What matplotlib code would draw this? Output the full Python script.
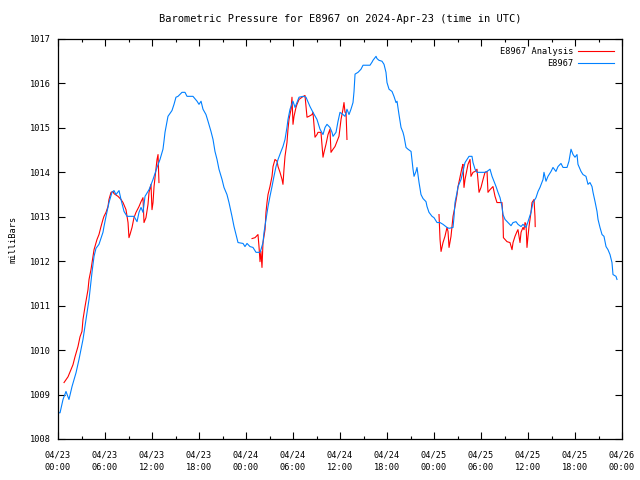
import numpy as np
import matplotlib
matplotlib.use("Agg")
import matplotlib.pyplot as plt
from matplotlib.ticker import MultipleLocator

nan = np.nan

# hours since 2024-04-23 00:00 UTC, pressure in mbar
blue_hours = [
    0.00, 0.26, 0.64, 1.02, 1.40, 1.79, 2.30, 2.68, 3.19, 3.57, 3.96, 4.34, 4.60, 4.85, 5.23, 5.74,
    5.87, 6.13, 6.51, 6.89, 7.15, 7.40, 7.79, 8.04, 8.43, 8.81, 9.70, 10.09, 10.34, 10.60, 10.85,
    11.11, 11.62, 11.74, 12.13, 12.64, 13.02, 13.40, 13.53, 13.66, 13.92, 14.04, 14.55, 14.81,
    15.06, 15.32, 15.83, 16.21, 16.47, 17.23, 17.75, 18.00, 18.26, 18.51, 18.89, 19.15, 19.53,
    19.79, 20.04, 20.30, 20.55, 20.94, 21.19, 21.57, 21.83, 22.21, 22.47, 22.72, 22.98, 23.62,
    23.87, 24.13, 24.51, 24.89, 25.28, 25.79, 25.91, 26.17, 26.30, 26.55, 26.81, 27.06, 27.32,
    27.57, 27.83, 28.09, 28.47, 28.72, 28.98, 29.23, 29.36, 29.62, 30.00, 30.26, 30.51, 30.77,
    31.28, 31.66, 32.17, 32.55, 33.06, 33.45, 33.83, 34.09, 34.34, 34.72, 34.98, 35.11, 35.49,
    35.75, 36.00, 36.38, 36.64, 36.89, 37.15, 37.40, 37.66, 37.79, 37.92, 38.30, 38.68, 38.94,
    39.83, 40.09, 40.21, 40.60, 40.72, 40.98, 41.36, 41.62, 41.87, 42.00, 42.26, 42.64, 42.89,
    43.15, 43.28, 43.53, 43.79, 44.04, 44.17, 44.43, 44.68, 45.07, 45.32, 45.45, 45.70, 45.83,
    46.09, 46.34, 46.60, 46.98, 47.11, 47.36, 47.75, 48.00, 48.39, 48.77, 49.15, 49.66, 49.92,
    50.43, 50.56, 50.68, 50.94, 51.07, 51.45, 51.70, 51.96, 52.21, 52.47, 52.85, 52.98, 53.24,
    53.49, 54.51, 54.77, 55.15, 55.41, 55.66, 55.92, 56.17, 56.43, 56.68, 56.81, 57.07, 57.45,
    57.83, 58.09, 58.47, 58.72, 59.11, 59.36, 59.75, 60.00, 60.38, 60.64, 61.02, 61.28, 61.53,
    61.92, 62.04, 62.30, 62.55, 62.94, 63.19, 63.57, 63.83, 64.21, 64.47, 64.98, 65.23, 65.49,
    65.75, 66.00, 66.26, 66.38, 66.77, 67.02, 67.40, 67.66, 67.91, 68.17, 68.30, 68.56, 68.81,
    68.94, 69.19, 69.45, 69.70, 69.96, 70.21, 70.47, 70.72, 70.85, 71.23, 71.36,
]
blue_press = [
    1008.59, 1008.59, 1008.89, 1009.07, 1008.89, 1009.18, 1009.49, 1009.79, 1010.24, 1010.69,
    1011.14, 1011.75, 1012.11, 1012.29, 1012.38, 1012.65, 1012.78, 1013.01, 1013.32, 1013.55,
    1013.59, 1013.50, 1013.59, 1013.39, 1013.12, 1013.01, 1013.01, 1012.89, 1013.10, 1013.21,
    1013.10, 1013.46, 1013.61, 1013.66, 1013.84, 1014.11, 1014.29, 1014.52, 1014.70, 1014.90,
    1015.15, 1015.26, 1015.39, 1015.53, 1015.69, 1015.71, 1015.80, 1015.80, 1015.71, 1015.71,
    1015.60, 1015.53, 1015.60, 1015.42, 1015.30, 1015.15, 1014.92, 1014.74, 1014.47, 1014.29,
    1014.07, 1013.84, 1013.66, 1013.50, 1013.32, 1013.01, 1012.78, 1012.60, 1012.42, 1012.40,
    1012.33, 1012.40, 1012.33, 1012.31, 1012.20, 1012.20, 1012.26, 1012.42, 1012.65, 1012.94,
    1013.23, 1013.46, 1013.68, 1013.91, 1014.13, 1014.29, 1014.47, 1014.58, 1014.74, 1015.01,
    1015.19, 1015.42, 1015.60, 1015.46, 1015.57, 1015.69, 1015.71, 1015.69, 1015.48, 1015.35,
    1015.19, 1014.97, 1014.85, 1015.01, 1015.08, 1015.01, 1014.90, 1014.81, 1014.90, 1015.15,
    1015.35, 1015.30, 1015.26, 1015.42, 1015.30, 1015.42, 1015.57, 1015.82, 1016.21, 1016.25,
    1016.32, 1016.41, 1016.41, 1016.48, 1016.52, 1016.61, 1016.56, 1016.52, 1016.50, 1016.43,
    1016.25, 1016.02, 1015.87, 1015.82, 1015.71, 1015.57, 1015.60, 1015.30, 1015.01, 1014.90,
    1014.81, 1014.56, 1014.52, 1014.47, 1014.07, 1013.91, 1014.02, 1014.11, 1013.77, 1013.50,
    1013.41, 1013.34, 1013.23, 1013.10, 1013.01, 1012.98, 1012.87, 1012.87, 1012.83, 1012.76,
    1012.74, 1012.76, 1013.01, 1013.32, 1013.55, 1013.68, 1013.84, 1014.02, 1014.22, 1014.29,
    1014.36, 1014.36, 1014.22, 1014.07, 1014.00, 1014.00, 1014.02, 1014.07, 1013.91, 1013.80,
    1013.68, 1013.55, 1013.43, 1013.23, 1013.05, 1012.94, 1012.87, 1012.80, 1012.87, 1012.89,
    1012.83, 1012.78, 1012.83, 1012.76, 1012.89, 1013.10, 1013.32, 1013.43, 1013.57, 1013.66,
    1013.84, 1014.00, 1013.80, 1013.91, 1014.02, 1014.11, 1014.02, 1014.13, 1014.20, 1014.11,
    1014.11, 1014.25, 1014.52, 1014.40, 1014.34, 1014.40, 1014.18, 1014.02, 1013.95, 1013.91,
    1013.73, 1013.77, 1013.68, 1013.55, 1013.34, 1013.12, 1012.94, 1012.76, 1012.60, 1012.56,
    1012.33, 1012.26, 1012.15, 1011.97, 1011.70, 1011.66, 1011.59,
]

# analysis series, nan marks the gaps
red_hours = [
    0.77, 1.28, 1.66, 1.91, 2.17, 2.55, 2.81, 3.06, 3.19, 3.45, 3.83, 3.96, 4.21, 4.47, 4.60, 4.98,
    5.23, 5.49, 5.74, 5.87, 6.13, 6.38, 6.51, 6.77, 7.02, 7.15, 7.66, 8.04, 8.30, 8.68, 8.94, 9.06,
    9.19, 9.45, 9.70, 9.96, 10.34, 10.60, 10.85, 10.98, 11.23, 11.49, 11.62, 11.87, 12.00, 12.13,
    12.26, 12.51, 12.64, 12.77, 12.89,
    nan,
    24.77, 25.15, 25.53, 25.66, 25.79, 25.91, 26.04, 26.17, 26.43, 26.55, 26.68, 26.81, 27.06,
    27.32, 27.45, 27.70, 27.96, 28.09, 28.34, 28.60, 28.72, 28.85, 28.98, 29.23, 29.36, 29.49,
    29.75, 29.87, 30.00, 30.13, 30.38, 30.51, 30.77, 31.15, 31.53, 31.79, 32.04, 32.43, 32.55,
    32.81, 33.06, 33.19, 33.57, 33.83, 33.96, 34.21, 34.47, 34.72, 34.85, 35.11, 35.36, 35.62,
    35.87, 36.13, 36.38, 36.51, 36.64, 36.77, 36.89,
    nan,
    48.64, 48.77, 48.90, 49.15, 49.40, 49.66, 49.79, 49.92, 50.17, 50.30, 50.43, 50.68, 50.94,
    51.07, 51.32, 51.58, 51.70, 51.83, 51.96, 52.21, 52.34, 52.60, 52.72, 52.98, 53.24, 53.49,
    53.75, 54.00, 54.26, 54.51, 54.77, 54.89, 55.15, 55.41, 55.53, 55.79, 56.04, 56.68, 56.81,
    56.86, 57.07, 57.32, 57.70, 57.96, 58.09, 58.34, 58.60, 58.72, 58.98, 59.11, 59.36, 59.49,
    59.62, 59.75, 59.87, 60.00, 60.13, 60.38, 60.51, 60.77, 60.89, 60.92,
]
red_press = [
    1009.27, 1009.40, 1009.56, 1009.67, 1009.85, 1010.08, 1010.30, 1010.42, 1010.69, 1010.98,
    1011.36, 1011.59, 1011.81, 1012.11, 1012.26, 1012.49, 1012.60, 1012.78, 1012.94, 1013.01,
    1013.10, 1013.23, 1013.39, 1013.55, 1013.57, 1013.52, 1013.46, 1013.39, 1013.32, 1013.16,
    1012.87, 1012.53, 1012.60, 1012.76, 1012.98, 1013.10, 1013.23, 1013.34, 1013.43, 1012.87,
    1012.98, 1013.28, 1013.55, 1013.73, 1013.16, 1013.32, 1013.68, 1014.07, 1014.29, 1014.40,
    1013.77,
    nan,
    1012.51, 1012.53, 1012.60, 1012.33, 1011.99, 1012.22, 1011.86, 1012.42, 1012.71, 1013.10,
    1013.32, 1013.50, 1013.68, 1013.91, 1014.13, 1014.29, 1014.25, 1014.13, 1014.00, 1013.84,
    1013.73, 1014.07, 1014.36, 1014.67, 1014.97, 1015.19, 1015.42, 1015.69, 1015.08, 1015.26,
    1015.46, 1015.53, 1015.64, 1015.69, 1015.73, 1015.24, 1015.26, 1015.30, 1015.35, 1014.79,
    1014.85, 1014.90, 1014.90, 1014.34, 1014.45, 1014.63, 1014.85, 1014.97, 1014.45, 1014.52,
    1014.58, 1014.70, 1014.81, 1015.19, 1015.42, 1015.57, 1015.35, 1015.35, 1014.74,
    nan,
    1013.05, 1012.49, 1012.22, 1012.42, 1012.56, 1012.76, 1012.67, 1012.31, 1012.56, 1012.78,
    1013.01, 1013.23, 1013.50, 1013.68, 1013.89, 1014.11, 1014.18, 1013.66, 1013.84, 1014.07,
    1014.18, 1014.29, 1013.91, 1014.00, 1014.02, 1014.07, 1013.55, 1013.66, 1013.84, 1014.00,
    1014.02, 1013.55, 1013.61, 1013.66, 1013.68, 1013.46, 1013.32, 1013.32, 1012.94, 1012.53,
    1012.49, 1012.44, 1012.42, 1012.26, 1012.42, 1012.56, 1012.67, 1012.71, 1012.42, 1012.65,
    1012.76, 1012.71, 1012.87, 1012.83, 1012.31, 1012.56, 1012.78, 1013.10, 1013.32, 1013.39,
    1013.01, 1012.78,
]

tick_hours = list(range(0, 73, 6))
tick_labels = [
    "04/23\n00:00", "04/23\n06:00", "04/23\n12:00", "04/23\n18:00",
    "04/24\n00:00", "04/24\n06:00", "04/24\n12:00", "04/24\n18:00",
    "04/25\n00:00", "04/25\n06:00", "04/25\n12:00", "04/25\n18:00",
    "04/26\n00:00",
]

plt.rcParams["font.family"] = "DejaVu Sans Mono"
plt.rcParams["font.size"] = 6.2

fig = plt.figure(figsize=(6.4, 4.8), dpi=100)
ax = fig.add_axes([58 / 640, 1 - 439 / 480, 564 / 640, 400 / 480])

ax.plot(red_hours, red_press, color="#ff0000", lw=0.8, label="E8967 Analysis")
ax.plot(blue_hours, blue_press, color="#0080ff", lw=0.8, label="E8967")

ax.set_xlim(0, 72)
ax.set_ylim(1008, 1017)
ax.set_xticks(tick_hours)
ax.set_xticklabels(tick_labels, linespacing=1.5)
ax.xaxis.set_minor_locator(MultipleLocator(3))
ax.yaxis.set_major_locator(MultipleLocator(1))
ax.tick_params(which="both", direction="in", top=True, right=True, width=0.8, colors="black")
ax.tick_params(which="major", length=5)
ax.tick_params(axis="x", which="major", pad=8)
ax.tick_params(axis="y", which="major", pad=5)
ax.tick_params(which="minor", length=2.5)
for sp in ax.spines.values():
    sp.set_linewidth(0.9)

ax.set_ylabel("milliBars", labelpad=9)
ax.set_title("Barometric Pressure for E8967 on 2024-Apr-23 (time in UTC)", pad=12)

leg = ax.legend(loc="upper right", frameon=False, markerfirst=False, handlelength=4.2,
                handletextpad=0.5, borderaxespad=0.5, labelspacing=0.35)
for t in leg.get_texts():
    t.set_ha("right")

fig.savefig("out.png", dpi=100)
